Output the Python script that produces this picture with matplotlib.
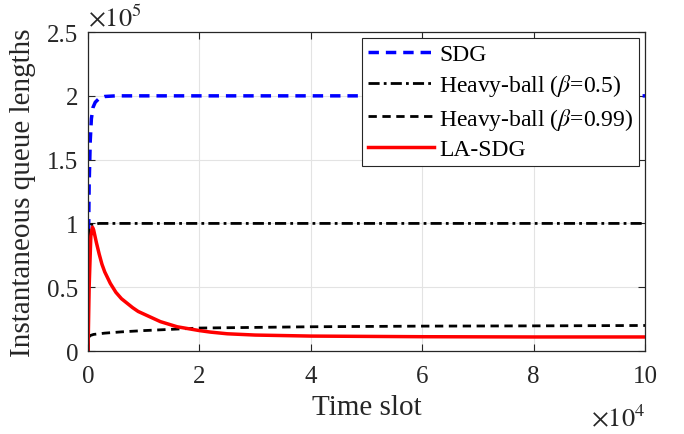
import matplotlib
matplotlib.use('Agg')
import matplotlib.pyplot as plt
from matplotlib.ticker import FuncFormatter

# x in units of 1e4 time slots, y in units of 1e5
sdg_x = [0, 0.01, 0.02, 0.04, 0.06, 0.09, 0.13, 0.2, 0.3, 0.5, 1, 10]
sdg_y = [0, 0.9, 1.3, 1.65, 1.82, 1.91, 1.95, 1.98, 1.995, 2.0, 2.0, 2.0]

hb05_x = [0, 0.01, 0.02, 0.05, 0.2, 1, 10]
hb05_y = [0, 0.7, 0.97, 0.99, 1.0, 1.0, 1.0]

hb099_x = [0, 0.01, 0.03, 0.1, 0.3, 0.6, 1, 1.5, 2, 3, 4, 6, 8, 10]
hb099_y = [0, 0.08, 0.12, 0.13, 0.14, 0.15, 0.16, 0.17, 0.18, 0.185, 0.19, 0.195, 0.197, 0.2]

lasdg_x = [0, 0.02, 0.05, 0.08, 0.1, 0.15, 0.2, 0.25, 0.3, 0.4, 0.5, 0.6, 0.7, 0.8, 0.9, 1.0,
           1.15, 1.3, 1.45, 1.6, 1.8, 2.0, 2.2, 2.5, 3, 4, 6, 8, 10]
lasdg_y = [0, 0.5, 0.9, 0.97, 0.95, 0.85, 0.76, 0.68, 0.62, 0.53, 0.46, 0.41, 0.375, 0.34, 0.31, 0.29,
           0.26, 0.23, 0.21, 0.19, 0.175, 0.16, 0.148, 0.135, 0.125, 0.117, 0.112, 0.11, 0.11]

plt.rcParams['font.family'] = 'Liberation Serif'
plt.rcParams['mathtext.fontset'] = 'stix'

fig = plt.figure(figsize=(6.84, 4.35), dpi=100)
ax = fig.add_axes([0.1287, 0.1908, 0.8143, 0.7332])

ax.plot(sdg_x, sdg_y, color='blue', linestyle=(0, (3, 2)), linewidth=2.5, label='SDG')
ax.plot(hb05_x, hb05_y, color='black', linestyle=(0, (4, 1.5, 1, 1.5)), linewidth=2, label=r'Heavy-ball ($\beta$=0.5)')
ax.plot(hb099_x, hb099_y, color='black', linestyle=(0, (3, 2)), linewidth=2, label=r'Heavy-ball ($\beta$=0.99)')
ax.plot(lasdg_x, lasdg_y, color='red', linewidth=2.5, label='LA-SDG')

ax.set_xlim(0, 10)
ax.set_ylim(0, 2.5)
ax.set_xticks([0, 2, 4, 6, 8, 10])
ax.set_yticks([0, 0.5, 1, 1.5, 2, 2.5])
ax.yaxis.set_major_formatter(FuncFormatter(lambda v, p: '%g' % v))
ax.tick_params(direction='in', length=5, width=0.8, labelsize=18, pad=7, colors='#262626')
ax.tick_params(axis='x', pad=10)
ax.tick_params(top=True, right=True, labeltop=False, labelright=False)
ax.grid(True, color='#e3e3e3', linewidth=0.8)
for s in ax.spines.values():
    s.set_color('#262626')
    s.set_linewidth(0.9)

ax.set_xlabel('Time slot', fontsize=21, color='#262626', labelpad=5)
ax.set_ylabel('Instantaneous queue lengths', fontsize=21, color='#262626', labelpad=8)
ax.text(0, 1.005, r'$\times10^5$', transform=ax.transAxes, fontsize=19, ha='left', va='bottom', color='#262626')
ax.text(1, -0.165, r'$\times10^4$', transform=ax.transAxes, fontsize=19, ha='right', va='top', color='#262626')

leg = ax.legend(loc='upper right', fontsize=17, fancybox=False, framealpha=1, edgecolor='#262626',
                handlelength=2.8, borderaxespad=0.25, labelspacing=0.3, handletextpad=0.2, borderpad=0.25)
leg.get_frame().set_linewidth(0.8)

fig.savefig('out.png', dpi=100)
